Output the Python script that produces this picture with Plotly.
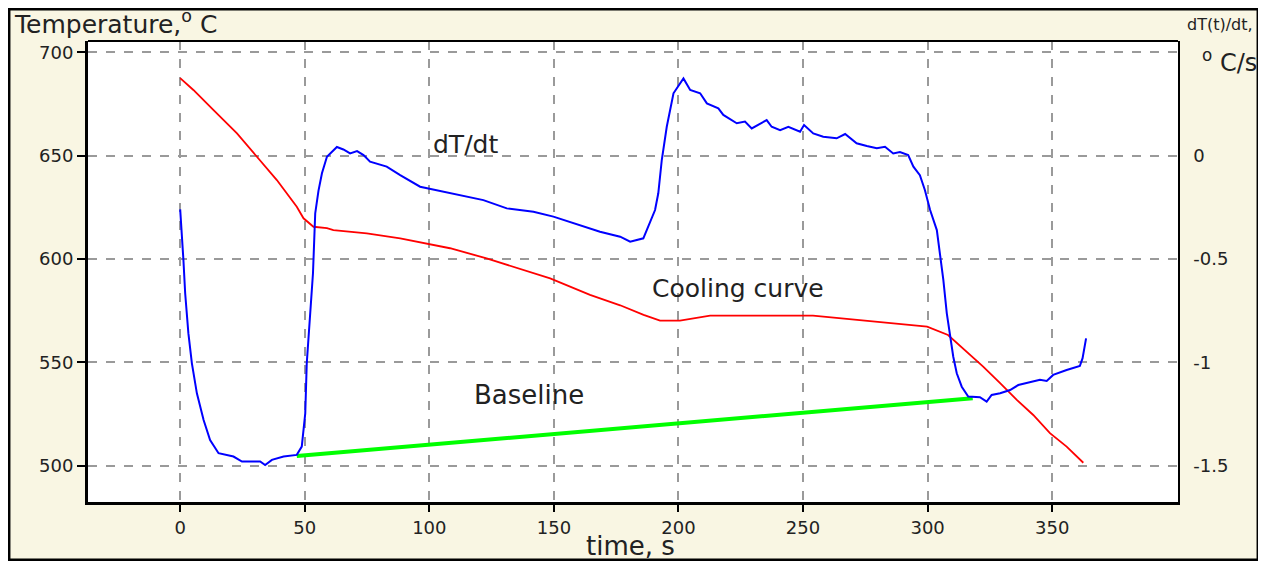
import plotly.graph_objects as go

# ---- data ----
cool_t = [0, 5.3, 13.4, 22.8, 30.8, 38.8, 46.8, 49.5, 53.5, 58.9, 61.5, 74.9, 88.3, 99.0,
          108.3, 123.0, 148.5, 164.5, 176.6, 186.0, 192.6, 200.6, 212.7, 254.0, 270.0,
          286.1, 299.8, 308.2, 315.7, 322.3, 329.1, 335.8, 342.4, 349.1, 355.8, 362.5]
cool_T = [687.5, 681.8, 672.1, 660.8, 649.5, 638.2, 625.3, 619.7, 615.6, 614.9, 614.0, 612.4,
          610.0, 607.6, 605.2, 600.3, 590.6, 582.6, 577.6, 573.0, 570.2, 570.2, 572.6, 572.6,
          570.8, 569.2, 567.3, 563.2, 555.2, 547.9, 539.9, 531.8, 524.5, 515.7, 509.2, 501.4]

rate_t = [0, 0.7, 1.3, 2.0, 3.3, 4.7, 6.7, 9.4, 12.0, 15.4, 21.4, 24.8, 32.1, 34.1, 36.8,
          41.5, 46.8, 48.8, 50.2, 50.8, 52.2, 53.3, 54.2, 55.5, 56.9, 58.9, 62.9, 65.5, 68.2,
          71.0, 73.6, 76.2, 82.9, 88.3, 96.3, 105.7, 115.0, 121.7, 131.1, 141.8, 149.8, 157.8,
          168.5, 176.6, 180.6, 185.9, 187.9, 190.6, 191.9, 193.3, 195.3, 198.0, 202.0, 204.7,
          208.7, 211.4, 216.0, 218.0, 223.4, 226.7, 229.4, 235.4, 237.4, 240.8, 244.1, 248.8,
          250.4, 254.1, 258.1, 263.5, 266.9, 271.5, 275.6, 279.6, 282.9, 286.2, 288.9, 292.2,
          294.3, 296.9, 298.9, 301.0, 303.7, 305.0, 306.3, 307.7, 309.0, 310.3, 311.7, 313.7,
          316.3, 321.0, 323.7, 325.7, 329.1, 333.1, 336.4, 342.4, 345.1, 347.8, 350.4, 355.8,
          361.1, 362.2, 363.1, 363.6]
rate_v = [-0.26, -0.376, -0.505, -0.666, -0.86, -1.005, -1.15, -1.279, -1.376, -1.44, -1.456,
          -1.48, -1.48, -1.497, -1.472, -1.456, -1.448, -1.408, -1.247, -1.005, -0.763, -0.569,
          -0.279, -0.17, -0.085, -0.005, 0.042, 0.03, 0.011, 0.022, 0.003, -0.029, -0.053,
          -0.094, -0.15, -0.174, -0.199, -0.215, -0.255, -0.271, -0.295, -0.327, -0.368,
          -0.392, -0.416, -0.40, -0.344, -0.263, -0.182, -0.021, 0.14, 0.302, 0.374, 0.318,
          0.302, 0.253, 0.229, 0.197, 0.157, 0.165, 0.132, 0.172, 0.14, 0.124, 0.14, 0.116,
          0.148, 0.108, 0.092, 0.084, 0.105, 0.06, 0.047, 0.036, 0.043, 0.011, 0.018, 0.003,
          -0.053, -0.094, -0.166, -0.263, -0.36, -0.472, -0.60, -0.763, -0.876, -0.973,
          -1.053, -1.118, -1.166, -1.169, -1.19, -1.158, -1.15, -1.134, -1.11, -1.094, -1.085,
          -1.09, -1.061, -1.037, -1.018, -0.98, -0.908, -0.884]

base_t = [46.8, 318.1]
base_v = [-1.453, -1.174]

x_ticks = [0, 50, 100, 150, 200, 250, 300, 350]
left_ticks = [500, 550, 600, 650, 700]
right_ticks = [0, -0.5, -1, -1.5]
right_tick_text = ["0", "-0.5", "-1", "-1.5"]

FONT = "DejaVu Sans"
CREAM = "#F9F6E3"
GRID = "#9a9a9a"
TXT = "#222222"

# figure geometry (page body adds an 8px offset)
W, H = 1251, 553
ML, MR, MT, MB = 80, 81, 33, 59
PW, PH = W - ML - MR, H - MT - MB


def px(dx):
    return dx / PW


def py(dy):
    return dy / PH


fig = go.Figure()
fig.add_trace(go.Scatter(x=cool_t, y=cool_T, mode="lines", line=dict(color="#FF0000", width=1.8),
                         name="Cooling curve", yaxis="y"))
fig.add_trace(go.Scatter(x=base_t, y=base_v, mode="lines", line=dict(color="#00FF00", width=4),
                         name="Baseline", yaxis="y2"))
fig.add_trace(go.Scatter(x=rate_t, y=rate_v, mode="lines", line=dict(color="#0000FF", width=2),
                         name="dT/dt", yaxis="y2"))

fig.update_layout(
    width=W, height=H,
    margin=dict(l=ML, r=MR, t=MT, b=MB),
    paper_bgcolor=CREAM,
    plot_bgcolor="white",
    showlegend=False,
    font=dict(family=FONT, size=18, color=TXT),
    xaxis=dict(range=[-37, 400.5], tickvals=x_ticks, ticks="outside", ticklen=7, tickwidth=2,
               tickcolor="black", showline=True, linecolor="black", linewidth=3,
               showgrid=True, gridcolor=GRID, griddash="dash", gridwidth=1.5, zeroline=False,
               tickfont=dict(size=18, color=TXT)),
    yaxis=dict(range=[482.4, 705.5], tickvals=left_ticks, ticks="outside", ticklen=8,
               tickwidth=2, tickcolor="black", showline=True, linecolor="black", linewidth=3,
               showgrid=True, gridcolor=GRID, griddash="dash", gridwidth=1.5, zeroline=False,
               tickfont=dict(size=18, color=TXT)),
    yaxis2=dict(range=[-1.676, 0.555], overlaying="y", side="right", tickvals=right_ticks,
                ticktext=right_tick_text, ticks="", ticklabelstandoff=10,
                showline=True, linecolor="black", linewidth=1.5,
                showgrid=False, zeroline=False, tickfont=dict(size=18, color=TXT)),
    shapes=[
        dict(type="rect", xref="paper", yref="paper", x0=px(-ML + 1.2), x1=1 + px(MR - 1.2),
             y0=-py(MB - 1.2), y1=1 + py(MT - 1.2), fillcolor="rgba(0,0,0,0)",
             line=dict(color="black", width=2.5), layer="above"),
        dict(type="line", xref="paper", yref="paper", x0=0, x1=1, y0=1, y1=1,
             line=dict(color="black", width=2)),
    ],
    annotations=[
        dict(text="Temperature,<sup>o</sup> C", xref="paper", yref="paper", x=px(4 - ML),
             y=1 + py(MT - 14), xanchor="left", yanchor="middle", showarrow=False,
             font=dict(size=25, color=TXT)),
        dict(text="dT(t)/dt,", xref="paper", yref="paper", x=1 + px(7), y=1 + py(MT - 17),
             xanchor="left", yanchor="middle", showarrow=False,
             font=dict(size=16, color=TXT)),
        dict(text="<sup>o</sup> C/s", xref="paper", yref="paper", x=1 + px(22), y=1 - py(20),
             xanchor="left", yanchor="middle", showarrow=False,
             font=dict(size=24, color=TXT)),
        dict(text="time, s", xref="paper", yref="paper", x=0.498, y=-py(44),
             xanchor="center", yanchor="middle", showarrow=False,
             font=dict(size=26, color=TXT)),
        dict(text="dT/dt", xref="x", yref="y", x=114.4, y=655.6, xanchor="center",
             yanchor="middle", showarrow=False, font=dict(size=25, color=TXT)),
        dict(text="Cooling curve", xref="x", yref="y", x=223.9, y=585.5, xanchor="center",
             yanchor="middle", showarrow=False, font=dict(size=25, color=TXT)),
        dict(text="Baseline", xref="x", yref="y", x=140.0, y=534.2, xanchor="center",
             yanchor="middle", showarrow=False, font=dict(size=26, color=TXT)),
    ],
)

fig.write_html("out.html")
